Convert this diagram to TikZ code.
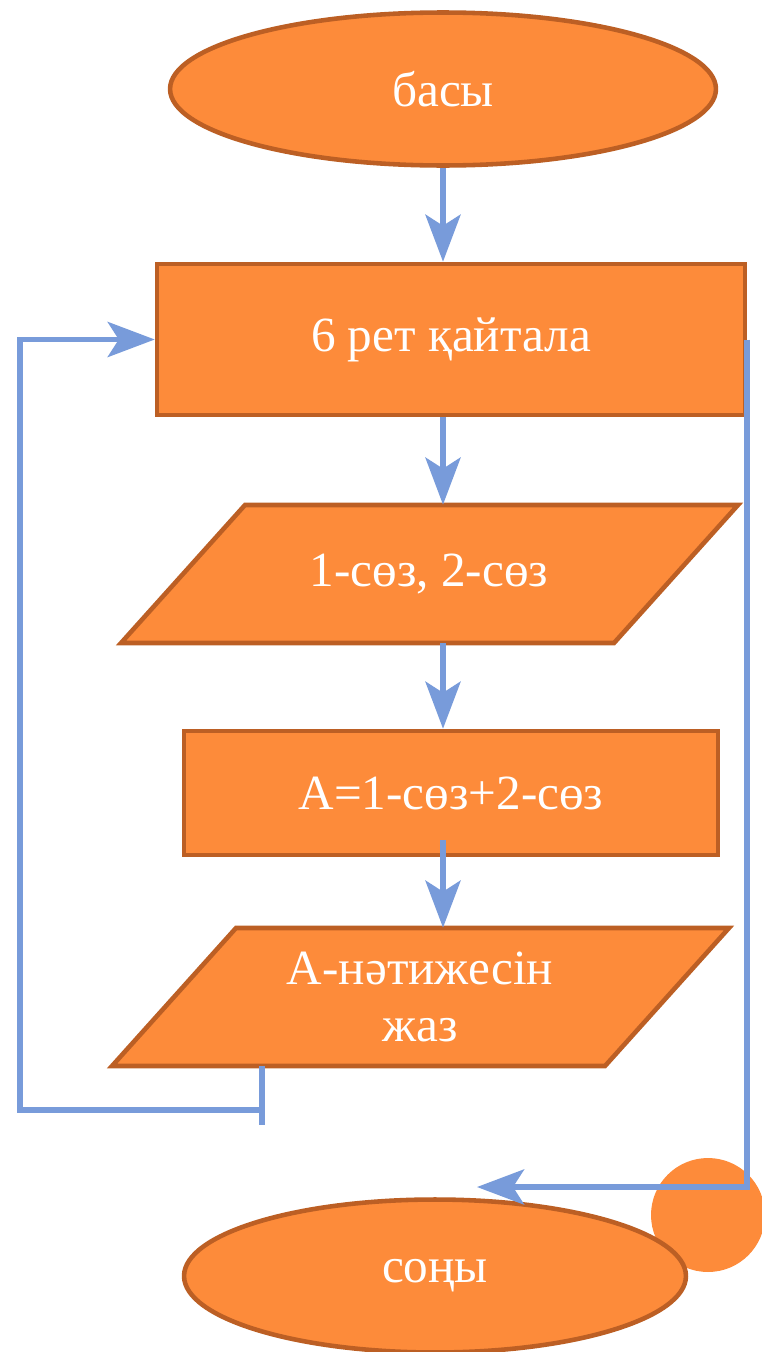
\documentclass[tikz,border=0pt]{standalone}
\usepackage{fontspec}
\setmainfont{Liberation Serif}
\usetikzlibrary{shapes.geometric,arrows.meta}

\definecolor{boxfill}{HTML}{FD8B3A}
\definecolor{boxline}{HTML}{BC5F24}
\definecolor{flowblue}{HTML}{789BDA}

\tikzset{
  label text/.style={text=white, font=\fontsize{28}{32.5}\selectfont, align=center, inner sep=0pt},
  block/.style={label text, draw=boxline, fill=boxfill, line width=2.6pt},
  term/.style={block, ellipse, minimum width=10.92cm, minimum height=3.06cm},
  proc/.style={block, rectangle},
  io/.style={label text, minimum width=9.8cm, minimum height=2.76cm},
  link/.style={draw=flowblue, line width=3.4pt},
  flow/.style={link, -{Stealth[length=0.94cm,width=0.7cm,inset=0.22cm]}}
}

\begin{document}
\begin{tikzpicture}[x=0.02cm, y=-0.02cm]
\useasboundingbox (0,0) rectangle (761,1352);

% orange dot behind the end
\node[circle, fill=boxfill, minimum size=2.28cm, inner sep=0pt] (dot) at (708,1215) {};

% blocks
\node[term] (start) at (443,89) {басы};
\node[proc, minimum width=11.76cm, minimum height=3.02cm] (loop) at (451,339.5) {6 рет қайтала};
\node[proc, minimum width=10.68cm, minimum height=2.48cm] (sum) at (451,793) {A=1-сөз+2-сөз};
\node[term, minimum width=10.04cm] (stop) at (435,1276) {соңы};

% parallelograms, drawn round their centres
\coordinate (in) at (429,574);
\coordinate (out) at (420,997);
\foreach \c in {in,out}
  \draw[block] (\c) ++(-184,-69) -- ++(493,0) -- ++(-124,138) -- ++(-493,0) -- cycle;
\node[io] (input) at (in) {1-сөз, 2-сөз};
\node[io] (output) at (out) {А-нәтижесін\\жаз};

% straight arrows
\draw[flow] (start.south) -- (start |- loop.north);
\draw[flow] (start |- loop.south) -- (start |- input.north);
\draw[flow] (start |- input.south) -- (start |- sum.north);
\draw[flow] (start |- sum.south) ++(0,-17) -- (start |- output.north);

% back to the loop
\coordinate (tick) at (262,1125);
\coordinate (corner) at (20,1110);
\draw[link] (tick |- output.south) -- (tick);
\draw[flow] (tick |- corner) -- (corner) -- (corner |- loop.west) -- (loop.west);

% leave the loop
\coordinate (exit) at (477,1187);
\draw[flow] (loop.east) -- (loop.east |- exit) -- (exit);

\end{tikzpicture}
\end{document}
